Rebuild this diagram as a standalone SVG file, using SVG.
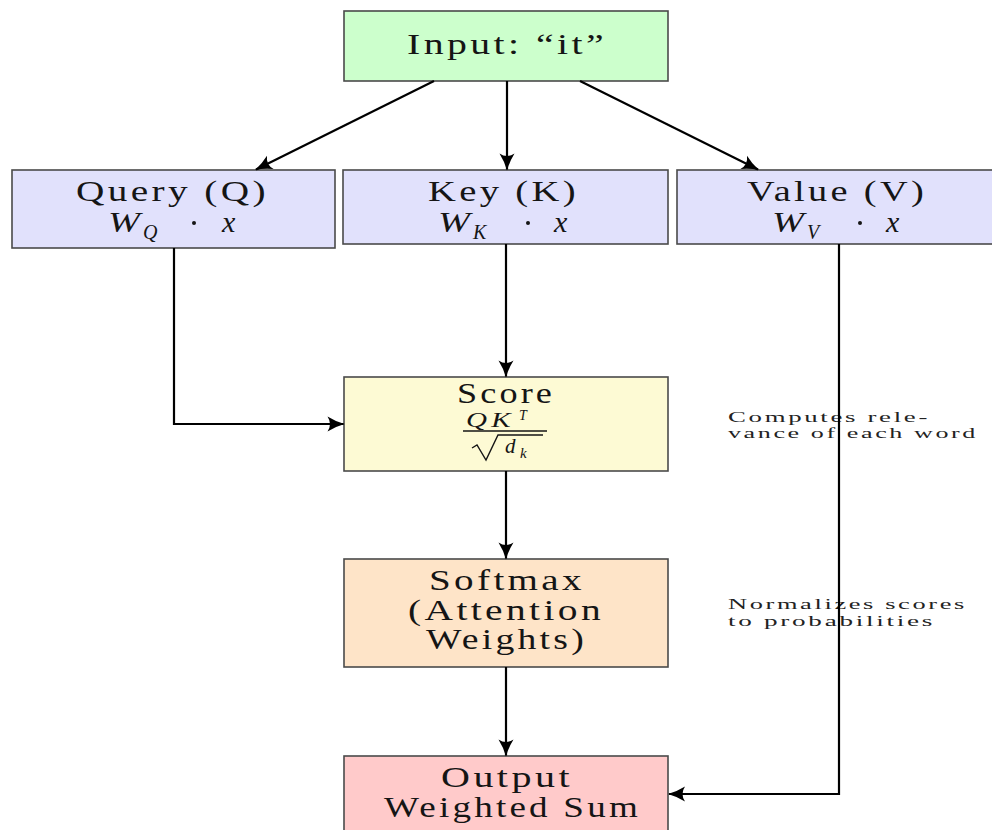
<svg xmlns="http://www.w3.org/2000/svg" width="992" height="830" viewBox="0 0 992 830">
  <style>
    .box { stroke: #4a4a4a; stroke-width: 1.6; }
    .lbl { font-family: "Liberation Serif", "DejaVu Serif", serif; font-size: 29px; letter-spacing: 2.5px; fill: #151515; }
    .math { font-family: "Liberation Serif", "DejaVu Serif", serif; font-style: italic; fill: #151515; }
    .note { font-family: "Liberation Serif", "DejaVu Serif", serif; font-size: 15px; letter-spacing: 1.5px; fill: #222; }
    .wire { fill: none; stroke: #000; stroke-width: 2.2; }
  </style>
  <defs>
    <marker id="head" markerUnits="userSpaceOnUse" markerWidth="20" markerHeight="18" viewBox="-18 -9 20 18" refX="0" refY="0" orient="auto">
      <path d="M1,0 Q-8,-2.5 -16,-7.5 Q-11,0 -16,7.5 Q-8,2.5 1,0 Z" fill="#000"/>
    </marker>
  </defs>

  <rect width="992" height="830" fill="#fff"/>

  <!-- input token -->
  <g id="input">
    <rect class="box" x="344" y="11" width="324" height="70" fill="#ccffcc"/>
    <text class="lbl" x="407" y="54" font-size="30" textLength="200" lengthAdjust="spacingAndGlyphs">Input: “it”</text>
  </g>

  <!-- projections -->
  <g id="query">
    <rect class="box" x="12" y="170" width="323" height="78" fill="#e1e1fc"/>
    <text class="lbl" x="76" y="201" textLength="193" lengthAdjust="spacingAndGlyphs">Query (Q)</text>
    <text class="math" font-size="30" x="108" y="232" textLength="32" lengthAdjust="spacingAndGlyphs">W</text>
    <text class="math" font-size="20" x="143" y="239">Q</text>
    <circle cx="194" cy="223" r="2" fill="#151515"/>
    <text class="math" font-size="30" x="222" y="232">x</text>
  </g>

  <g id="key">
    <rect class="box" x="343" y="170" width="325" height="74" fill="#e1e1fc"/>
    <text class="lbl" x="428" y="201" textLength="151" lengthAdjust="spacingAndGlyphs">Key (K)</text>
    <text class="math" font-size="30" x="438" y="232" textLength="32" lengthAdjust="spacingAndGlyphs">W</text>
    <text class="math" font-size="20" x="473" y="239">K</text>
    <circle cx="528" cy="223" r="2" fill="#151515"/>
    <text class="math" font-size="30" x="554" y="232">x</text>
  </g>

  <g id="value">
    <rect class="box" x="677" y="170" width="324" height="74" fill="#e1e1fc"/>
    <text class="lbl" x="747" y="201" textLength="180" lengthAdjust="spacingAndGlyphs">Value (V)</text>
    <text class="math" font-size="30" x="772" y="232" textLength="32" lengthAdjust="spacingAndGlyphs">W</text>
    <text class="math" font-size="20" x="807" y="239">V</text>
    <circle cx="860" cy="223" r="2" fill="#151515"/>
    <text class="math" font-size="30" x="886" y="232">x</text>
  </g>

  <!-- scaled dot-product score -->
  <g id="score">
    <rect class="box" x="344" y="377" width="324" height="94" fill="#fdfad4"/>
    <text class="lbl" x="457" y="403" textLength="98" lengthAdjust="spacingAndGlyphs">Score</text>
    <text class="math" font-size="20" x="466" y="427" letter-spacing="3" textLength="49" lengthAdjust="spacingAndGlyphs">QK</text>
    <text class="math" font-size="14" x="519" y="420">T</text>
    <line x1="463" y1="431" x2="547" y2="431" stroke="#151515" stroke-width="1.4"/>
    <path d="M472,448 L477,445 L486,460 L498,435 L543,435" fill="none" stroke="#151515" stroke-width="1.4"/>
    <text class="math" font-size="21" x="505" y="453">d</text>
    <text class="math" font-size="15" x="520" y="458">k</text>
  </g>

  <g id="softmax">
    <rect class="box" x="344" y="559" width="324" height="108" fill="#fee4c8"/>
    <text class="lbl" x="429" y="590" textLength="156" lengthAdjust="spacingAndGlyphs">Softmax</text>
    <text class="lbl" x="408" y="620" textLength="196" lengthAdjust="spacingAndGlyphs">(Attention</text>
    <text class="lbl" x="426" y="649" textLength="161" lengthAdjust="spacingAndGlyphs">Weights)</text>
  </g>

  <g id="output">
    <rect class="box" x="344" y="756" width="324" height="90" fill="#ffcaca"/>
    <text class="lbl" x="441" y="787" textLength="132" lengthAdjust="spacingAndGlyphs">Output</text>
    <text class="lbl" x="384" y="817" textLength="257" lengthAdjust="spacingAndGlyphs">Weighted Sum</text>
  </g>

  <!-- side notes -->
  <g id="notes">
    <text class="note" x="728" y="422" textLength="202" lengthAdjust="spacingAndGlyphs">Computes rele-</text>
    <text class="note" x="728" y="438" textLength="250" lengthAdjust="spacingAndGlyphs">vance of each word</text>
    <text class="note" x="728" y="609" textLength="239" lengthAdjust="spacingAndGlyphs">Normalizes scores</text>
    <text class="note" x="728" y="626" textLength="207" lengthAdjust="spacingAndGlyphs">to probabilities</text>
  </g>

  <!-- connectors -->
  <g id="connectors">
    <line class="wire" x1="434" y1="81" x2="256" y2="169.5" marker-end="url(#head)"/>
    <line class="wire" x1="507" y1="81" x2="507" y2="169.5" marker-end="url(#head)"/>
    <line class="wire" x1="580" y1="81" x2="758" y2="169.5" marker-end="url(#head)"/>
    <polyline class="wire" points="174,248 174,424 343.5,424" marker-end="url(#head)"/>
    <line class="wire" x1="506" y1="244" x2="506" y2="376.5" marker-end="url(#head)"/>
    <line class="wire" x1="506" y1="471" x2="506" y2="558.5" marker-end="url(#head)"/>
    <line class="wire" x1="506" y1="667" x2="506" y2="755.5" marker-end="url(#head)"/>
    <polyline class="wire" points="839,244 839,794 669,794" marker-end="url(#head)"/>
  </g>
</svg>
